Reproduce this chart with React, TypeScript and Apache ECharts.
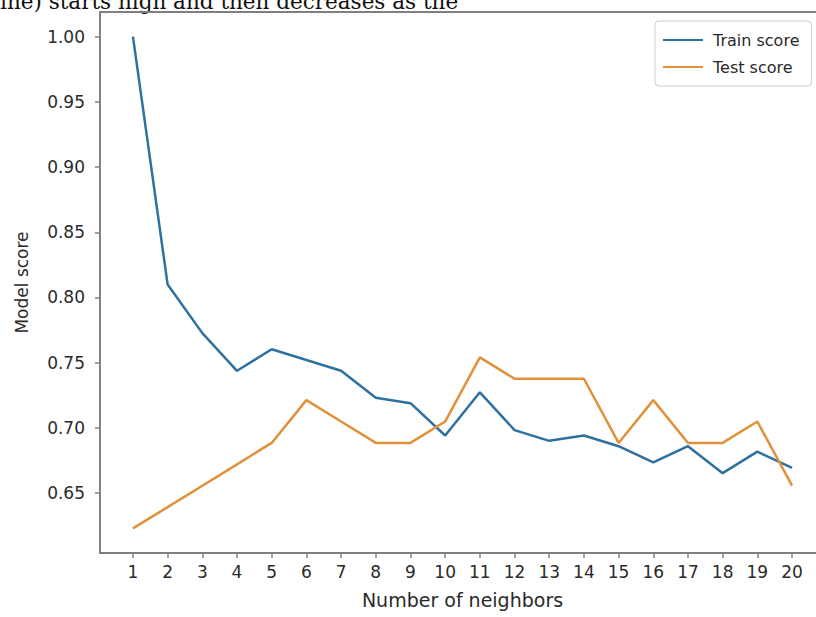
import React, { useEffect, useRef } from "react";
import * as echarts from "echarts";

const neighbors = [1, 2, 3, 4, 5, 6, 7, 8, 9, 10, 11, 12, 13, 14, 15, 16, 17, 18, 19, 20];
const trainScores = [
  1.0, 0.8099, 0.7727, 0.7438, 0.7603, 0.7521, 0.7438, 0.7231, 0.719, 0.6942,
  0.7273, 0.6983, 0.6901, 0.6942, 0.686, 0.6736, 0.686, 0.6653, 0.6818, 0.6694,
];
const testScores = [
  0.623, 0.6393, 0.6557, 0.6721, 0.6885, 0.7213, 0.7049, 0.6885, 0.6885, 0.7049,
  0.7541, 0.7377, 0.7377, 0.7377, 0.6885, 0.7213, 0.6885, 0.6885, 0.7049, 0.6557,
];
const yTicks = [0.65, 0.7, 0.75, 0.8, 0.85, 0.9, 0.95, 1.0];
const headerText = "ine) starts high and then decreases as the";

const SPINE = "#808080";
const TEXT = "#2a2a2a";
const FONT = "DejaVu Sans";

export default function App() {
  const ref = useRef<HTMLDivElement>(null);
  useEffect(() => {
    if (!ref.current) return;
    const chart = echarts.init(ref.current, null, { renderer: "svg" });
    chart.setOption({
      animation: false,
      backgroundColor: "#ffffff",
      textStyle: { fontFamily: FONT },
      grid: { left: 100, top: 12, right: 1, bottom: 64, containLabel: false },
      graphic: [
        {
          type: "text",
          left: 0,
          top: -10,
          style: {
            text: headerText,
            font: "21.5px 'DejaVu Serif', serif",
            fill: "#111111",
          },
        },
      ],
      legend: {
        left: 655,
        top: 21,
        orient: "vertical",
        icon: "rect",
        itemWidth: 40,
        itemHeight: 2,
        itemGap: 11,
        padding: [11, 12, 11, 8],
        borderColor: "#cccccc",
        borderWidth: 1,
        borderRadius: 4,
        backgroundColor: "#ffffff",
        textStyle: { fontFamily: FONT, fontSize: 16, color: TEXT, padding: [0, 0, 0, 5] },
        data: ["Train score", "Test score"],
      },
      xAxis: [
        {
          type: "value",
          min: 0.05,
          max: 20.95,
          name: "Number of neighbors",
          nameLocation: "middle",
          nameGap: 37,
          nameTextStyle: { fontFamily: FONT, fontSize: 19, color: TEXT },
          axisLine: { show: true, lineStyle: { color: SPINE, width: 2 } },
          axisTick: { show: true, customValues: neighbors, length: 5, lineStyle: { color: SPINE, width: 1.5 } },
          axisLabel: {
            customValues: neighbors,
            margin: 10,
            fontSize: 17,
            color: TEXT,
            fontFamily: FONT,
          },
          splitLine: { show: false },
        },
        {
          type: "value",
          position: "top",
          min: 0.05,
          max: 20.95,
          axisLine: { show: true, lineStyle: { color: SPINE, width: 2 } },
          axisTick: { show: false },
          axisLabel: { show: false },
          splitLine: { show: false },
        },
      ],
      yAxis: {
        type: "value",
        min: 0.6041,
        max: 1.0189,
        name: "Model score",
        nameLocation: "middle",
        nameGap: 70,
        nameRotate: 90,
        nameTextStyle: { fontFamily: FONT, fontSize: 17, color: TEXT },
        axisLine: { show: true, lineStyle: { color: SPINE, width: 2 } },
        axisTick: { show: true, customValues: yTicks, length: 5, lineStyle: { color: SPINE, width: 1.5 } },
        axisLabel: {
          customValues: yTicks,
          margin: 15,
          fontSize: 17,
          color: TEXT,
          fontFamily: FONT,
          formatter: (v: number) => v.toFixed(2),
        },
        splitLine: { show: false },
      },
      series: [
        {
          name: "Train score",
          type: "line",
          data: neighbors.map((n, i) => [n, trainScores[i]]),
          symbol: "none",
          lineStyle: { color: "#2e71a0", width: 2.5 },
          itemStyle: { color: "#2e71a0" },
        },
        {
          name: "Test score",
          type: "line",
          data: neighbors.map((n, i) => [n, testScores[i]]),
          symbol: "none",
          lineStyle: { color: "#e0913a", width: 2.5 },
          itemStyle: { color: "#e0913a" },
        },
      ],
    });
    return () => chart.dispose();
  }, []);
  return (
    <div style={{ position: "absolute", left: 0, top: 0, width: 816, height: 617, overflow: "hidden", background: "#fff" }}>
      <div ref={ref} style={{ width: 826, height: 617 }} />
    </div>
  );
}
